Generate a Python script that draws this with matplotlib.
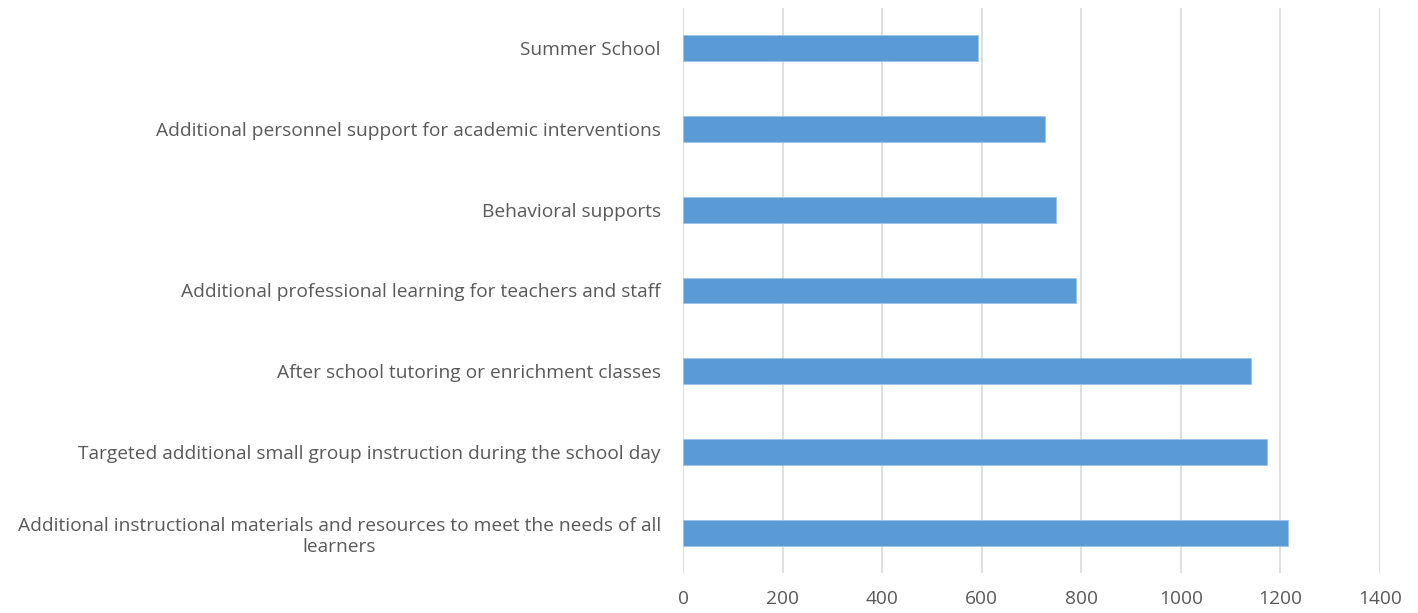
import matplotlib.pyplot as plt

categories = [
    'Additional instructional materials and resources to meet the needs of all\nlearners',
    'Targeted additional small group instruction during the school day',
    'After school tutoring or enrichment classes',
    'Additional professional learning for teachers and staff',
    'Behavioral supports',
    'Additional personnel support for academic interventions',
    'Summer School',
]
values = [1215, 1174, 1141, 789, 749, 728, 592]
xticks = [0, 200, 400, 600, 800, 1000, 1200, 1400]

plt.rcParams['font.family'] = ['Open Sans', 'DejaVu Sans']

fig = plt.figure(figsize=(14.18, 6.13), dpi=100)
ax = fig.add_axes([0.4817, 0.0653, 0.4915, 0.9217])

ax.barh(range(len(categories)), values, height=0.32, color='#5B9BD5',
        edgecolor='#9DC3E6', linewidth=0.6, zorder=3)

ax.set_xlim(0, 1400)
ax.set_ylim(-0.5, len(categories) - 0.5)
ax.set_xticks(xticks)
ax.set_xticklabels([str(t) for t in xticks])
ax.set_yticks(range(len(categories)))
ax.set_yticklabels(categories, multialignment='center', linespacing=1.25)

ax.grid(axis='x', color='#D9D9D9', linewidth=1.2, zorder=0)
for s in ax.spines.values():
    s.set_visible(False)
ax.tick_params(axis='both', length=0, colors='#595959', labelsize=13.8)
ax.tick_params(axis='y', pad=16)
ax.tick_params(axis='x', pad=12)

fig.savefig('out.png', dpi=100)
